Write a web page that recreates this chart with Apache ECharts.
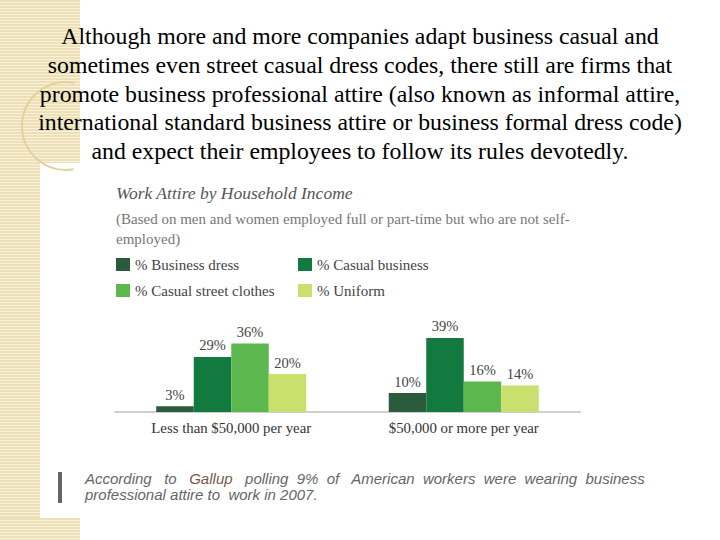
<!DOCTYPE html>
<html>
<head>
<meta charset="utf-8">
<script src="https://cdn.jsdelivr.net/npm/echarts@6/dist/echarts.min.js"></script>
<style>
  html, body { margin:0; padding:0; background:#fff; }
  #wrap { position:relative; width:720px; height:540px; overflow:hidden; }
  .stripe { position:absolute; background: repeating-linear-gradient(to bottom, #eee0b6 0px, #eee0b6 2px, #f8f1dc 2px, #f8f1dc 3px); }
  #chart { position:absolute; left:0; top:0; width:720px; height:540px; }
</style>
</head>
<body>
<div id="wrap">
  <div class="stripe" style="left:0;top:0;width:40px;height:540px;"></div>
  <div class="stripe" style="left:0;top:0;width:80px;height:163px;"></div>
  <div class="stripe" style="left:0;top:518px;width:80px;height:22px;"></div>
  <div id="chart"></div>
</div>
<script>
const categories = ['Less than $50,000 per year', '$50,000 or more per year'];
const seriesNames = ['% Business dress', '% Casual business', '% Casual street clothes', '% Uniform'];
const businessDress = [3, 10];
const casualBusiness = [29, 39];
const casualStreet = [36, 16];
const uniform = [20, 14];
const colors = ['#2b5a3c', '#127a3e', '#5cb84e', '#c9df6e'];
const headlineLines = [
  'Although more and more companies adapt business casual and',
  'sometimes even street casual dress codes, there still are firms that',
  'promote business professional attire (also known as informal attire,',
  'international standard business attire or business formal dress code)',
  'and expect their employees to follow its rules devotedly.'
];
const chartTitle = 'Work Attire by Household Income';
const chartSub = '(Based on men and women employed full or part-time but who are not self-\nemployed)';
const quoteLine1 = ['According   to   ', 'Gallup', '   polling  9%  of   American  workers  were  wearing  business'];
const quoteLine2 = 'professional attire to  work in 2007.';

const serif = 'Liberation Serif';
const chart = echarts.init(document.getElementById('chart'), null, {renderer: 'svg'});
const values = [businessDress, casualBusiness, casualStreet, uniform];

const graphics = [];
graphics.push({
  type: 'arc', shape: { cx: 66, cy: 126, r: 44, startAngle: 1.4, endAngle: 4.9 },
  style: { stroke: '#e3d19c', lineWidth: 2, fill: null }, z: -1
});
graphics.push({ type: 'rect', shape: { x: 58, y: 472, width: 4, height: 31 }, style: { fill: '#666' } });
graphics.push({
  type: 'text', left: 85, top: 471,
  style: {
    text: '{a|' + quoteLine1[0] + '}{g|' + quoteLine1[1] + '}{a|' + quoteLine1[2] + '}\n{a|' + quoteLine2 + '}',
    rich: {
      a: { fontFamily: 'Liberation Sans', fontStyle: 'italic', fontSize: 15, fill: '#666', lineHeight: 16 },
      g: { fontFamily: 'Liberation Sans', fontStyle: 'italic', fontSize: 15, fill: '#7a5a44', lineHeight: 16 }
    }
  }
});

const legendPos = [[116, 257], [298, 257], [116, 283], [298, 283]];

const option = {
  animation: false,
  backgroundColor: 'transparent',
  title: [
    {
      text: headlineLines.join('\n'), left: 'center', top: 22, padding: 0,
      textStyle: { fontFamily: serif, fontWeight: 'normal', fontSize: 23.8, color: '#000', lineHeight: 28.6 }
    },
    {
      text: chartTitle, subtext: chartSub, left: 116, top: 184, padding: 0, itemGap: 7,
      textStyle: { fontFamily: serif, fontStyle: 'italic', fontWeight: 'normal', fontSize: 17.5, color: '#555' },
      subtextStyle: { fontFamily: serif, fontSize: 15, color: '#777', lineHeight: 20 }
    }
  ],
  legend: seriesNames.map((n, i) => ({
    data: [n], left: legendPos[i][0], top: legendPos[i][1], padding: 0,
    itemWidth: 14, itemHeight: 13, icon: 'rect',
    textStyle: { fontFamily: serif, fontSize: 15, color: '#444' }
  })),
  grid: { left: 115, right: 140, top: 336, bottom: 128 },
  xAxis: {
    type: 'category', data: categories,
    axisLine: { lineStyle: { color: '#cfcfcf', width: 2 } },
    axisTick: { show: false },
    axisLabel: { fontFamily: serif, fontSize: 14.8, color: '#333', margin: 8 }
  },
  yAxis: { type: 'value', min: 0, max: 40, show: false, splitLine: { show: false } },
  series: seriesNames.map((n, i) => ({
    type: 'bar', name: n, data: values[i], barWidth: 37.5, barGap: '0%',
    itemStyle: { color: colors[i] },
    label: { show: true, position: 'top', distance: 4, formatter: '{c}%', fontFamily: serif, fontSize: 14.5, color: '#444' }
  })),
  graphic: graphics
};
chart.setOption(option);
</script>
</body>
</html>
